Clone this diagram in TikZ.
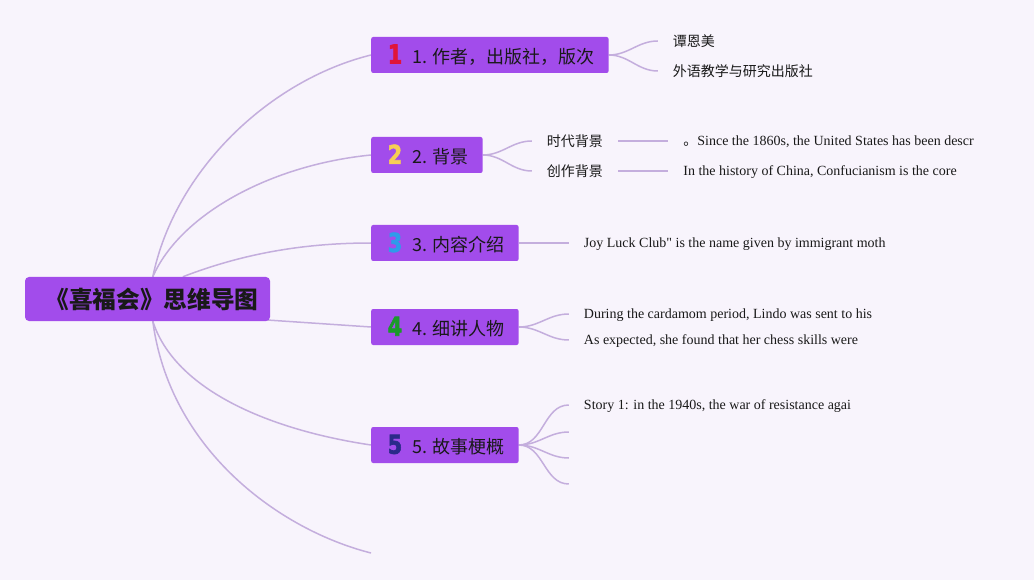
\documentclass[tikz,border=0pt]{standalone}
\usepackage{fontspec}
\setmainfont{Liberation Serif}
\newfontfamily\cjk{Noto Sans CJK SC}
\newfontfamily\numfont[BoldFeatures={FakeBold=2.5}]{DejaVu Sans}
\usepackage{xcolor}
\definecolor{pagebg}{HTML}{F8F4FC}
\definecolor{topicfill}{HTML}{A24CEB}
\definecolor{linkline}{HTML}{C4AEDD}
\definecolor{numred}{HTML}{E0143A}
\definecolor{numyellow}{HTML}{F7CE55}
\definecolor{numblue}{HTML}{2F9BEA}
\definecolor{numgreen}{HTML}{1A9A2A}
\definecolor{numnavy}{HTML}{2B2A8A}
\usetikzlibrary{positioning,backgrounds,calc}
\newcommand{\bignum}[2]{\makebox[17pt][r]{\numfont\bfseries\fontsize{26}{26}\selectfont\color{#1}\scalebox{0.8}[1]{#2}}\hspace{10pt}}

\begin{document}
\begin{tikzpicture}[
  x=1pt,y=-1pt,
  every node/.style={inner ysep=0pt,text=black!90},
  rootbx/.style={fill=topicfill,rounded corners=4pt,minimum width=245pt,minimum height=44pt,font=\cjk\bfseries\fontsize{23.7}{24}\selectfont},
  topic/.style={fill=topicfill,rounded corners=2pt,minimum height=36pt,inner xsep=14pt,anchor=west,font=\cjk\fontsize{18}{18}\selectfont},
  leafzh/.style={inner xsep=15pt,font=\cjk\fontsize{14}{14}\selectfont},
  leafen/.style={inner xsep=15pt,text depth=0pt,font=\fontsize{14}{14}\selectfont},
  br/.style={draw=linkline,line width=1.5pt}
]
\useasboundingbox (0,0) rectangle (1034,580);
\node[rootbx] (root) at (147.5,299) {\hspace{9pt}《喜福会》思维导图};
\node[topic] (t1) at (371,55) {\bignum{numred}{1}1. 作者，出版社，版次};
\node[topic] (t2) at (371,155) {\bignum{numyellow}{2}2. 背景};
\node[topic] (t3) at (371,243) {\bignum{numblue}{3}3. 内容介绍};
\node[topic] (t4) at (371,327) {\bignum{numgreen}{4}4. 细讲人物};
\node[topic] (t5) at (371,445) {\bignum{numnavy}{5}5. 故事梗概};
\coordinate (t6) at (371,553);

\node[leafzh,right=49pt of t1.east,yshift=14pt] (a1) {谭恩美};
\node[leafzh,right=49pt of t1.east,yshift=-16pt] (a2) {外语教学与研究出版社};
\node[leafzh,right=49pt of t2.east,yshift=14pt] (c1) {时代背景};
\node[leafzh,right=49pt of t2.east,yshift=-16pt] (c2) {创作背景};
\node[leafen,right=50pt of c1] (c1e) {{\cjk 。}Since the 1860s, the United States has been descr};
\node[leafen,right=50pt of c2] (c2e) {In the history of China, Confucianism is the core};
\node[leafen,right=50pt of t3] (d1) {Joy Luck Club\textquotedbl{} is the name given by immigrant moth};
\node[leafen,right=50pt of t4.east,yshift=13pt] (f1) {During the cardamom period, Lindo was sent to his};
\node[leafen,right=50pt of t4.east,yshift=-13pt] (f2) {As expected, she found that her chess skills were};
\node[leafen,right=50pt of t5.east,yshift=40pt] (e1) {Story 1: in the 1940s, the war of resistance agai};
\coordinate[right=50pt of t5.east,yshift=13pt] (e2);
\coordinate[right=50pt of t5.east,yshift=-13pt] (e3);
\coordinate[right=50pt of t5.east,yshift=-39pt] (e4);

\begin{scope}[on background layer]
\fill[pagebg] (0,0) rectangle (1034,580);
\draw[br] ($(root.north west)+(128,0)$) .. controls +(22,-107) and +(-101,25) .. (t1.west);
\draw[br] ($(root.north west)+(128,0)$) .. controls +(27,-62) and +(-101,10) .. (t2.west);
\draw[br] ($(root.north west)+(158,0)$) .. controls +(57,-22) and +(-71,0) .. (t3.west);
\draw[br] ($(root.south east)+(-15,-2)$) -- (t4.west);
\draw[br] ($(root.south west)+(128,0)$) .. controls +(22,69) and +(-101,-15) .. (t5.west);
\draw[br] ($(root.south west)+(128,0)$) .. controls +(17,129) and +(-91,-23) .. (t6);
\draw[br] (t1.east) to[out=0,in=180] (a1.west);
\draw[br] (t1.east) to[out=0,in=180] (a2.west);
\draw[br] (t2.east) to[out=0,in=180] (c1.west);
\draw[br] (t2.east) to[out=0,in=180] (c2.west);
\draw[br] (c1) -- (c1e);
\draw[br] (c2) -- (c2e);
\draw[br] (t3) -- (d1);
\draw[br] (t4.east) to[out=0,in=180] (f1.west);
\draw[br] (t4.east) to[out=0,in=180] (f2.west);
\draw[br] (t5.east) to[out=0,in=180] (e1.west);
\draw[br] (t5.east) to[out=0,in=180] (e2);
\draw[br] (t5.east) to[out=0,in=180] (e3);
\draw[br] (t5.east) to[out=0,in=180] (e4);
\end{scope}
\end{tikzpicture}
\end{document}
